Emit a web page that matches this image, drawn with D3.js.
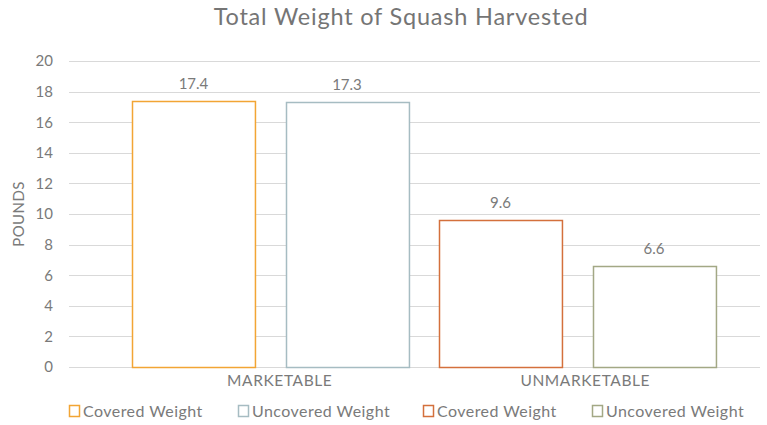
<!DOCTYPE html>
<html>
<head>
<meta charset="utf-8">
<script src="https://cdn.jsdelivr.net/npm/d3@7"></script>
<style>
  html, body { margin: 0; padding: 0; background: #fff; }
  svg { display: block; font-family: "Lato", "Open Sans", sans-serif; }
</style>
</head>
<body>
<svg id="chart" width="767" height="425"></svg>
<script>
const categories = ["MARKETABLE", "UNMARKETABLE"];
const seriesNames = ["Covered Weight", "Uncovered Weight", "Covered Weight ", "Uncovered Weight "];
const seriesCategory = ["MARKETABLE", "MARKETABLE", "UNMARKETABLE", "UNMARKETABLE"];
const seriesValues = [17.4, 17.3, 9.6, 6.6];
const seriesColors = ["#F2A534", "#A6BCC2", "#D4703C", "#A3A885"];
const yTicks = [0, 2, 4, 6, 8, 10, 12, 14, 16, 18, 20];

const svg = d3.select("#chart");
const W = 767, H = 425;
const plot = { left: 69, right: 760, top: 61, bottom: 367 };
const textColor = "#7a7a7a";

const y = d3.scaleLinear().domain([0, 20]).range([plot.bottom, plot.top]);

// category label positions
const xCat = d3.scaleBand().domain(categories).range([127, 738]);
// bar slot positions
const xSeries = d3.scaleBand().domain(d3.range(seriesNames.length))
  .range([116.75, 730.75]).paddingInner(0.199).paddingOuter(0.0995);

// title
svg.append("text")
  .attr("x", 401).attr("y", 25)
  .attr("text-anchor", "middle")
  .attr("font-size", 23.5)
  .attr("letter-spacing", 0.8)
  .attr("fill", "#757575")
  .text("Total Weight of Squash Harvested");

// gridlines
svg.append("g").selectAll("line").data(yTicks).join("line")
  .attr("x1", plot.left).attr("x2", plot.right)
  .attr("y1", d => Math.round(y(d)) + 0.5).attr("y2", d => Math.round(y(d)) + 0.5)
  .attr("stroke", "#d9d9d9").attr("stroke-width", 1);

// y axis labels
const yAxis = d3.axisLeft(y).tickValues(yTicks).tickSize(0).tickPadding(0);
const gy = svg.append("g").attr("transform", `translate(53,0)`).call(yAxis);
gy.select(".domain").remove();
gy.selectAll("text")
  .attr("font-size", 15)
  .attr("font-family", "Lato, sans-serif")
  .attr("fill", textColor);

// y axis title
svg.append("text")
  .attr("transform", `translate(24,${(plot.top + plot.bottom) / 2}) rotate(-90)`)
  .attr("text-anchor", "middle")
  .attr("font-size", 15)
  .attr("letter-spacing", 0.4)
  .attr("fill", textColor)
  .text("POUNDS");

// bars
const bars = seriesValues.map((v, i) => ({ i, v, name: seriesNames[i], color: seriesColors[i] }));
svg.append("g").selectAll("rect").data(bars).join("rect")
  .attr("x", d => Math.round(xSeries(d.i)) + 0.5)
  .attr("y", d => Math.round(y(d.v)) + 0.5)
  .attr("width", xSeries.bandwidth())
  .attr("height", d => Math.round(y(0)) - Math.round(y(d.v)))
  .attr("fill", "#fff")
  .attr("stroke", d => d.color)
  .attr("stroke-width", 1.5);

// value labels
svg.append("g").selectAll("text").data(bars).join("text")
  .attr("x", d => xSeries(d.i) + xSeries.bandwidth() / 2)
  .attr("y", d => y(d.v) - 12)
  .attr("text-anchor", "middle")
  .attr("font-size", 15)
  .attr("fill", textColor)
  .text(d => d.v.toFixed(1));

// category labels
const xAxis = d3.axisBottom(xCat).tickSize(0).tickPadding(0);
const gx = svg.append("g").attr("transform", `translate(0,375)`).call(xAxis);
gx.select(".domain").remove();
gx.selectAll("text")
  .attr("dy", "0.71em")
  .attr("font-size", 15.5)
  .attr("letter-spacing", 0.6)
  .attr("font-family", "Lato, sans-serif")
  .attr("fill", textColor);

// legend
const legendX = [69, 238, 423, 592];
const lg = svg.append("g").selectAll("g").data(bars).join("g")
  .attr("transform", d => `translate(${legendX[d.i]},405)`);
lg.append("rect")
  .attr("x", 0.5).attr("y", 0.5).attr("width", 10).attr("height", 11)
  .attr("fill", "#fff").attr("stroke", d => d.color).attr("stroke-width", 1.5);
lg.append("text")
  .attr("x", 14).attr("y", 11.5)
  .attr("font-size", 16)
  .attr("letter-spacing", 0.45)
  .attr("fill", textColor)
  .text(d => d.name.trim());
</script>
</body>
</html>
